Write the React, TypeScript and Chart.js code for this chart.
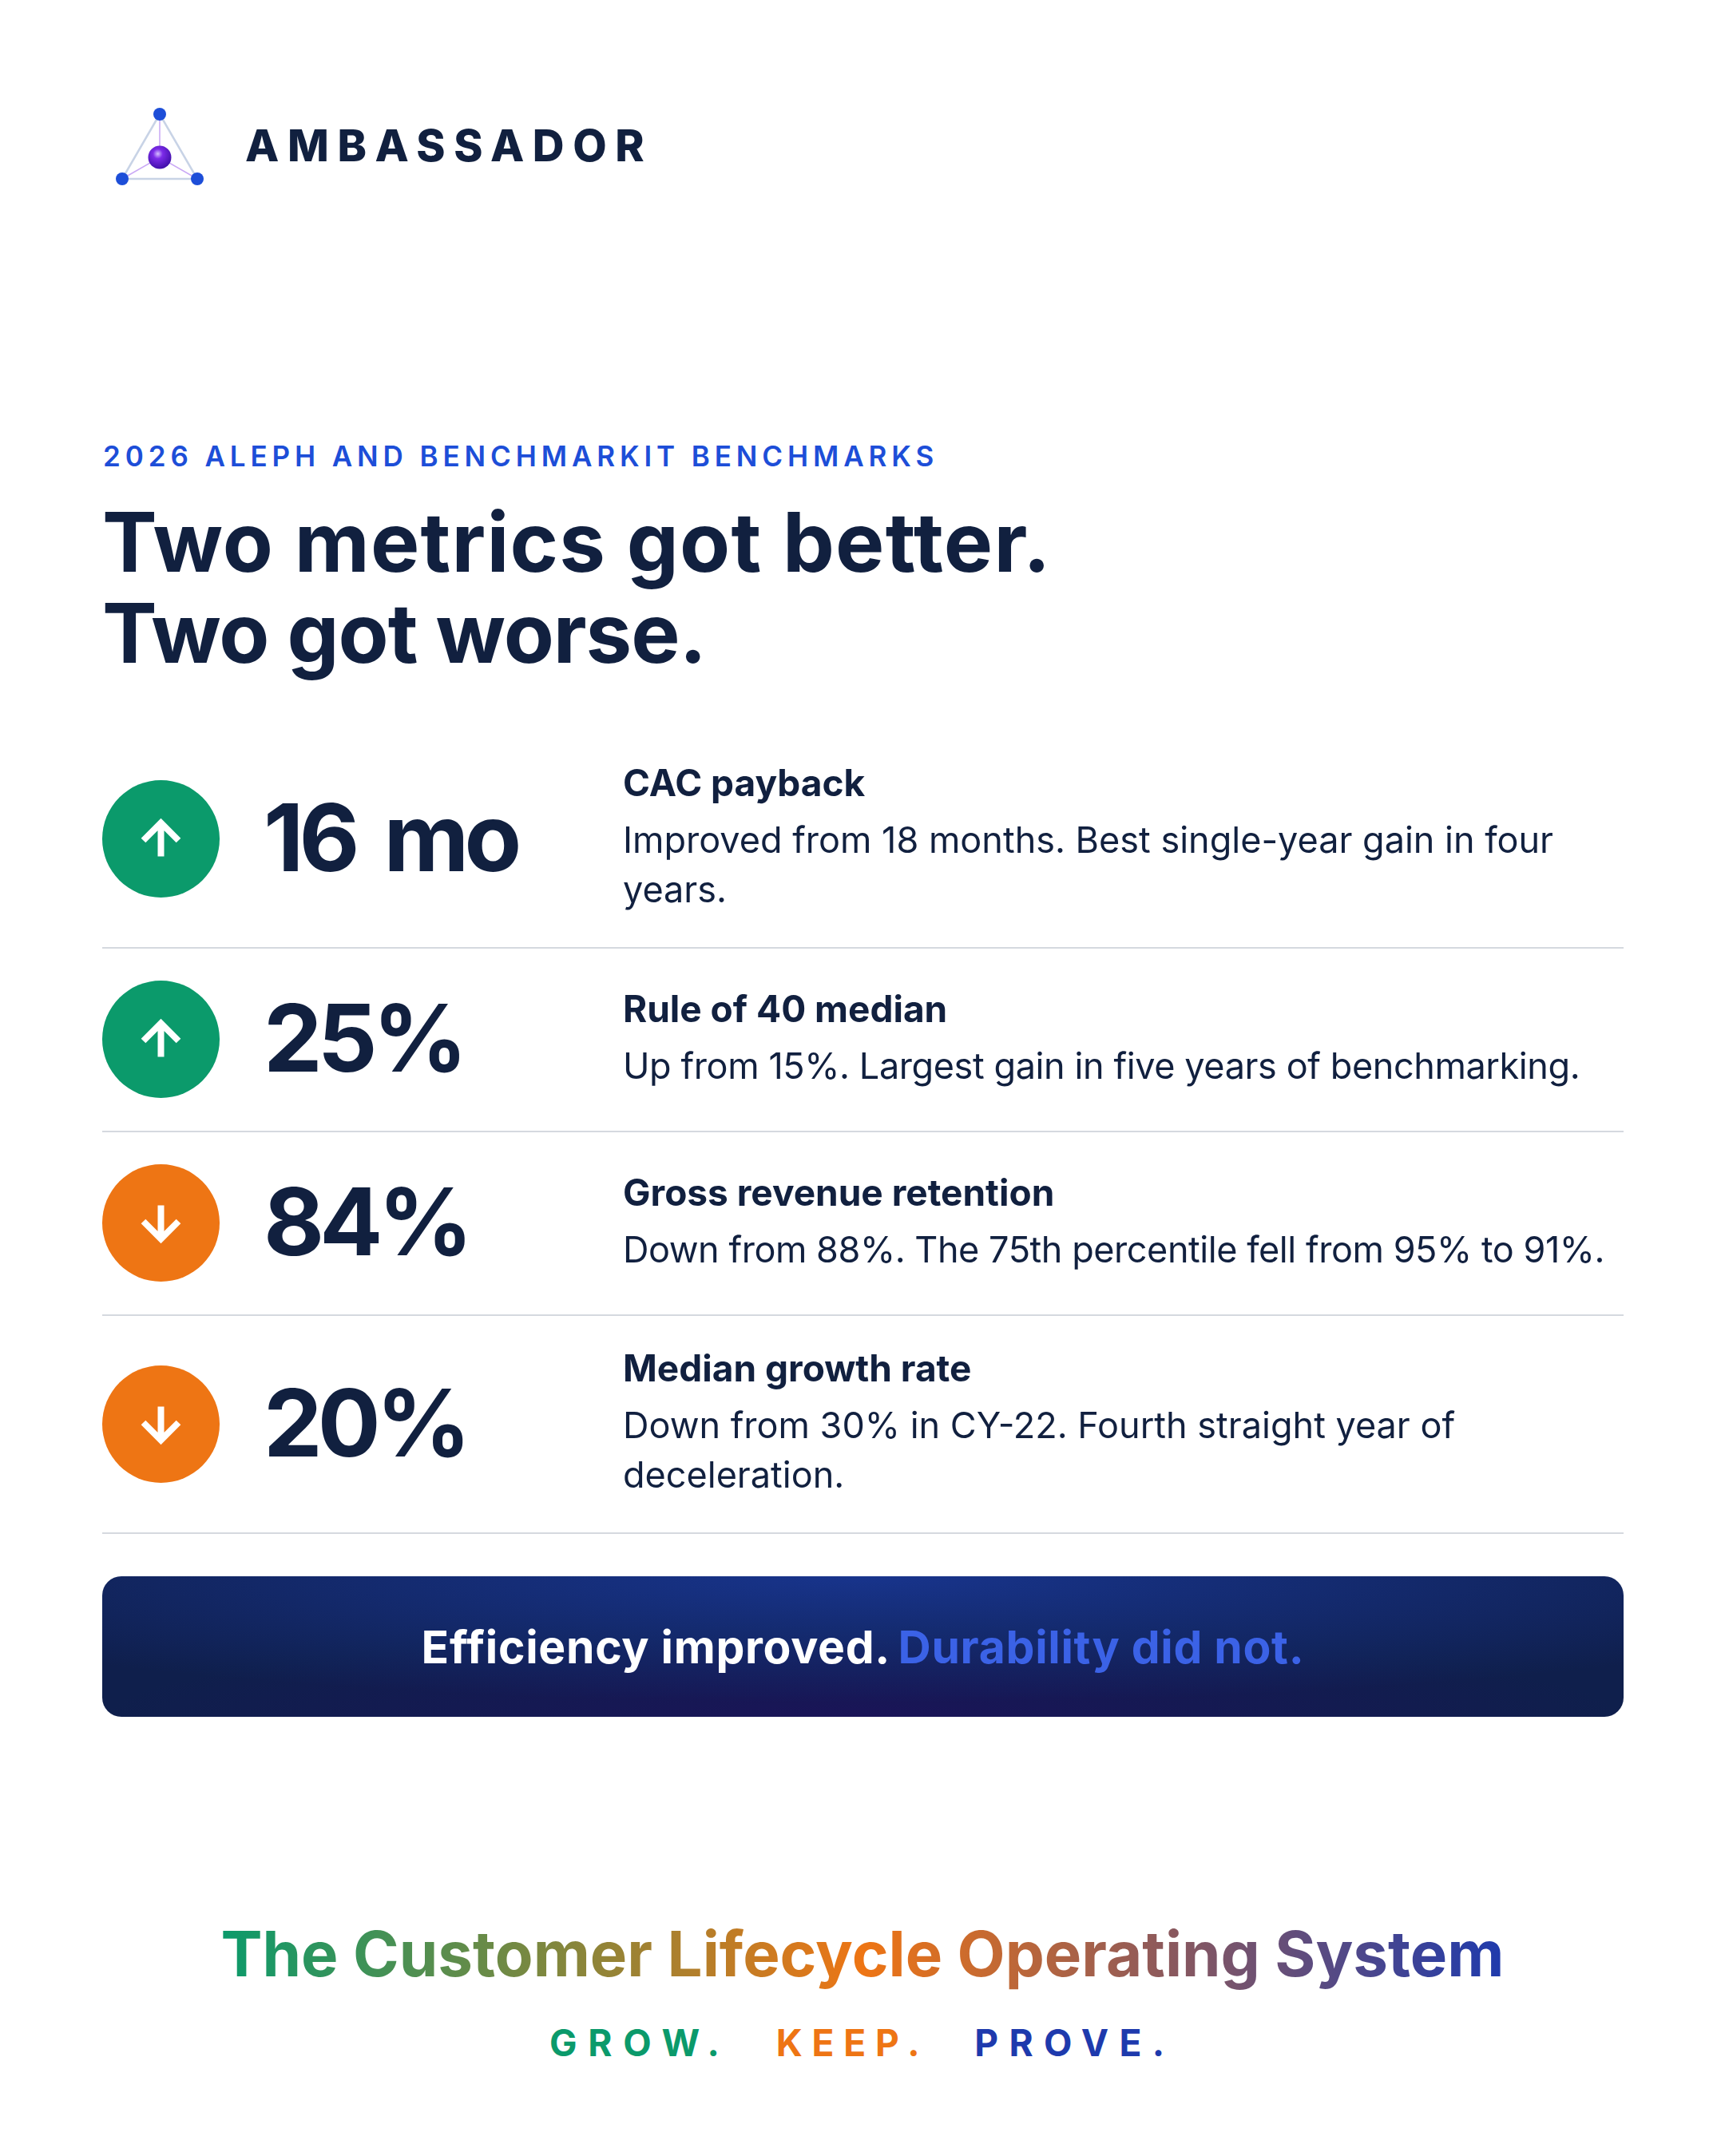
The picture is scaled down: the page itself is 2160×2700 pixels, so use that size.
import { useEffect, useRef } from "react";
import { Chart, registerables } from "chart.js";

Chart.register(...registerables);

const metricNames = ["CAC payback", "Rule of 40 median", "Gross revenue retention", "Median growth rate"];
const metricValues = [16, 25, 84, 20];
const metricUnits = [" mo", "%", "%", "%"];
const metricTrend = ["up", "up", "down", "down"];
const metricNotes = [
  ["Improved from 18 months. Best single-year gain in four", "years."],
  ["Up from 15%. Largest gain in five years of benchmarking."],
  ["Down from 88%. The 75th percentile fell from 95% to 91%."],
  ["Down from 30% in CY-22. Fourth straight year of", "deceleration."],
];
const taglineWords = ["GROW.", "KEEP.", "PROVE."];

// Inter runs wider than the original face on some lines, so these are tuned per line
const noteTracking = [0, -0.4, -0.45, 0];
const taglineTracking = [13.8, 11.8, 13.3];

const INK = "#11203f";
const BLUE = "#1d4ed8";
const GREEN = "#0b9a6b";
const ORANGE = "#ee7514";
const FONT = "Inter, sans-serif";

// white arrow on top of the badge point
const arrowPlugin = {
  id: "trendArrow",
  afterDatasetsDraw(chart: any) {
    const el = chart.getDatasetMeta(0).data[0];
    const dir = chart.options.plugins.trendArrow.dir === "up" ? 1 : -1;
    const { ctx } = chart;
    ctx.save();
    ctx.translate(el.x, el.y);
    ctx.strokeStyle = "#fff";
    ctx.lineWidth = 8;
    ctx.lineCap = "butt";
    ctx.lineJoin = "miter";
    ctx.beginPath();
    ctx.moveTo(0, 22 * dir);
    ctx.lineTo(0, -19 * dir);
    ctx.moveTo(-22, 2 * dir);
    ctx.lineTo(0, -20 * dir);
    ctx.lineTo(22, 2 * dir);
    ctx.stroke();
    ctx.restore();
  },
};

function TrendBadge({ trend }: { trend: string }) {
  const canvasRef = useRef<HTMLCanvasElement>(null);

  useEffect(() => {
    if (!canvasRef.current) return;
    const chart = new Chart(canvasRef.current, {
      type: "scatter",
      data: {
        datasets: [
          {
            data: [{ x: 0, y: 0 }],
            pointRadius: 73.5,
            pointHoverRadius: 73.5,
            pointBorderWidth: 0,
            pointBackgroundColor: trend === "up" ? GREEN : ORANGE,
            clip: false,
          },
        ],
      },
      options: {
        responsive: false,
        animation: false,
        events: [],
        layout: { padding: 0 },
        scales: {
          x: { display: false, min: -1, max: 1 },
          y: { display: false, min: -1, max: 1 },
        },
        plugins: {
          legend: { display: false },
          tooltip: { enabled: false },
          trendArrow: { dir: trend },
        } as any,
      },
      plugins: [arrowPlugin],
    });
    return () => chart.destroy();
  }, [trend]);

  return <canvas ref={canvasRef} width={147} height={147} style={{ width: 147, height: 147, display: "block", flex: "none" }} />;
}

function Logo() {
  return (
    <svg width={110} height={100} viewBox="0 0 110 100" style={{ position: "absolute", left: 145, top: 135 }}>
      <defs>
        <radialGradient id="ball" cx="0.42" cy="0.35" r="0.7">
          <stop offset="0" stopColor="#d6bfff" />
          <stop offset="0.3" stopColor="#7c2be8" />
          <stop offset="1" stopColor="#3a0ca3" />
        </radialGradient>
      </defs>
      <path d="M55 8 L8 89 L102 89 Z" fill="none" stroke="#c8d3e6" strokeWidth={2.5} />
      <path d="M55 8 L55 62 M8 89 L55 62 L102 89" fill="none" stroke="#c9a8f5" strokeWidth={1.5} />
      <circle cx={55} cy={8} r={8} fill={BLUE} />
      <circle cx={8} cy={89} r={8} fill={BLUE} />
      <circle cx={102} cy={89} r={8} fill={BLUE} />
      <circle cx={55} cy={62} r={14.5} fill="url(#ball)" />
    </svg>
  );
}

export default function App() {
  return (
    <div style={{ position: "absolute", left: 0, top: 0, width: 2160, height: 2700, background: "#fff", fontFamily: FONT, color: INK, overflow: "hidden" }}>
      <Logo />
      <div style={{ position: "absolute", left: 307, top: 149, fontSize: 55, lineHeight: "66px", fontWeight: 800, letterSpacing: "10.6px", whiteSpace: "nowrap" }}>
        AMBASSADOR
      </div>

      <div style={{ position: "absolute", left: 129, top: 550, fontSize: 35, lineHeight: "42px", fontWeight: 600, letterSpacing: "5.9px", color: BLUE, whiteSpace: "nowrap" }}>
        2026 ALEPH AND BENCHMARKIT BENCHMARKS
      </div>
      <div style={{ position: "absolute", left: 128, top: 622, fontSize: 103, lineHeight: "114px", fontWeight: 700, whiteSpace: "nowrap" }}>
        <div style={{ letterSpacing: "1.2px" }}>Two metrics got better.</div>
        <div style={{ letterSpacing: "-1.1px" }}>Two got worse.</div>
      </div>

      <div style={{ position: "absolute", left: 128, top: 915, width: 1905 }}>
        {metricNames.map((name, i) => (
          <div key={name} style={{ display: "flex", alignItems: "center", padding: "40px 0 41px", borderBottom: "2px solid #d5d9df" }}>
            <TrendBadge trend={metricTrend[i]} />
            <div style={{ width: 505, flex: "none", paddingLeft: 55, boxSizing: "border-box", fontSize: 117, fontWeight: 700, letterSpacing: "-0.05em", wordSpacing: "14px", whiteSpace: "nowrap", position: "relative", top: -2 }}>
              {metricValues[i]}
              {metricUnits[i]}
            </div>
            <div>
              <div style={{ fontSize: 46, lineHeight: "56px", marginBottom: 10, fontWeight: 700, whiteSpace: "nowrap", position: "relative", top: -3 }}>{name}</div>
              {metricNotes[i].map((line) => (
                <div key={line} style={{ fontSize: 45, lineHeight: "62px", fontWeight: 400, letterSpacing: noteTracking[i], whiteSpace: "nowrap" }}>
                  {line}
                </div>
              ))}
            </div>
          </div>
        ))}
      </div>

      <div
        style={{
          position: "absolute",
          left: 128,
          top: 1974,
          width: 1905,
          height: 176,
          borderRadius: 24,
          background:
            "radial-gradient(ellipse 70% 90% at 50% 0%, #18348c 0%, rgba(24,52,140,0) 100%), radial-gradient(ellipse 50% 60% at 50% 100%, #1a1458 0%, rgba(26,20,88,0) 100%), #0f1f4c",
          display: "flex",
          alignItems: "center",
          justifyContent: "center",
          fontSize: 57,
          fontWeight: 700,
          letterSpacing: "0.7px",
          color: "#fff",
          whiteSpace: "pre",
        }}
      >
        Efficiency improved. <span style={{ color: "#3b62e6", marginLeft: -3 }}>Durability did not.</span>
      </div>

      <div style={{ position: "absolute", left: 0, top: 2400, width: 2160, textAlign: "center" }}>
        <span
          style={{
            fontSize: 78,
            lineHeight: "94px",
            fontWeight: 700,
            whiteSpace: "nowrap",
            background: `linear-gradient(90deg, ${GREEN} 0%, ${ORANGE} 50%, #1e3aad 100%)`,
            WebkitBackgroundClip: "text",
            backgroundClip: "text",
            color: "transparent",
          }}
        >
          The Customer Lifecycle Operating System
        </span>
      </div>

      <div style={{ position: "absolute", left: 688, top: 2530, display: "flex", gap: 57, fontSize: 46, lineHeight: "56px", fontWeight: 700, whiteSpace: "nowrap" }}>
        {taglineWords.map((word, i) => (
          <span key={word} style={{ color: [GREEN, ORANGE, "#1e3aad"][i], letterSpacing: taglineTracking[i] }}>
            {word}
          </span>
        ))}
      </div>
    </div>
  );
}
